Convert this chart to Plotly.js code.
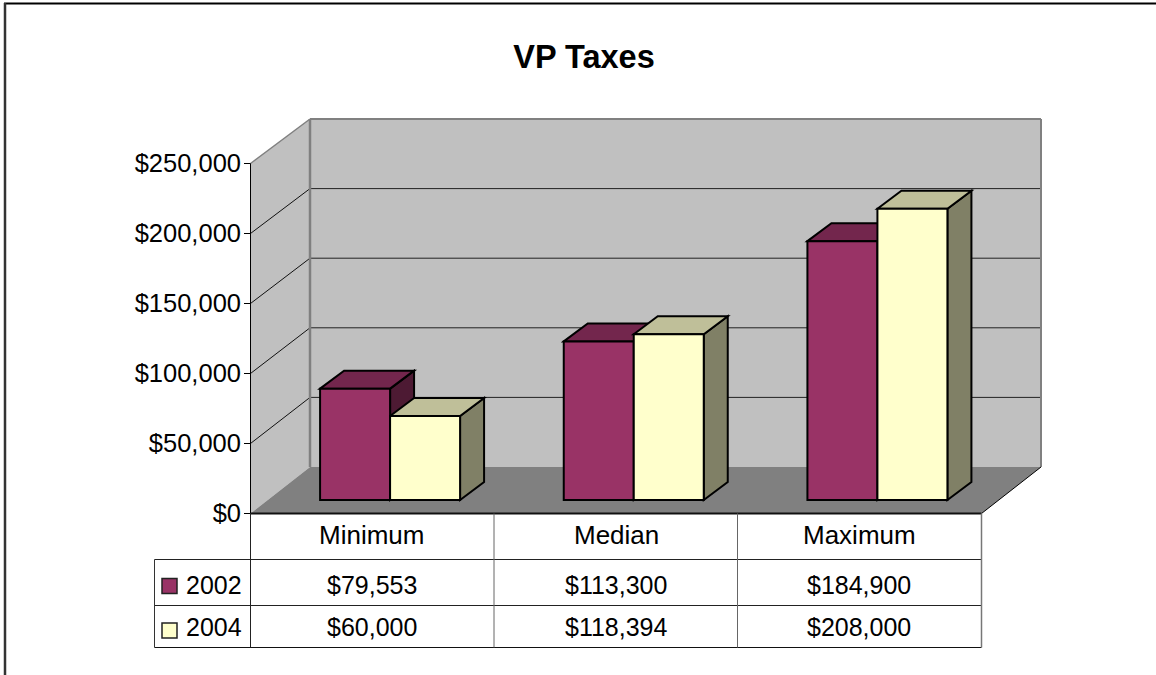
<!DOCTYPE html>
<html>
<head>
<meta charset="utf-8">
<script src="https://cdn.plot.ly/plotly-3.0.1.min.js"></script>
<style>html,body{margin:0;padding:0;background:#fff}#chart{width:1156px;height:675px}</style>
</head>
<body>
<div id="chart"></div>
<script>
const categories = ['Minimum', 'Median', 'Maximum'];
const seriesNames = ['2002', '2004'];
const values2002 = [79553, 113300, 184900];
const values2004 = [60000, 118394, 208000];
const yTicks = [0, 50000, 100000, 150000, 200000, 250000];

// Page geometry, in pixels
const W = 1156, H = 675;
const plotL = 248, plotR = 1045, plotT = 115, plotB = 515;   // whole-pixel plot area
const L = 250.5, Bottom = 513.5, FrontRight = 981.5;          // front edge of the box
const pxPerDollar = 350 / 250000;
const pxPerCat = (FrontRight - L) / 3;
const wallDx = 59.5 / pxPerCat, floorDy = 46.5 / pxPerDollar;
const backScale = 348 / 350;
const barW = 70 / pxPerCat, faceDx = 24 / pxPerCat, faceDy = 18 / pxPerDollar;
const barShift = 17.75 / pxPerCat, barBase = 13.5 / pxPerDollar;
const xMin = -0.5, xFront = 2.5, xBack = xFront + wallDx;
const yTop = yTicks[yTicks.length - 1];
const backY = t => floorDy + t * backScale;

const xRange = [xMin - (L - plotL) / pxPerCat, xMin + (plotR - L) / pxPerCat];
const yRange = [-(plotB - Bottom) / pxPerDollar, (Bottom - plotT) / pxPerDollar];

// paper coordinates are fractions of the plot area
const px = v => (v - plotL) / (plotR - plotL), py = v => (plotB - v) / (plotB - plotT);
const money = v => '$' + v.toLocaleString('en-US');
const path = pts => 'M' + pts.map(p => p[0] + ' ' + p[1]).join(' L') + ' Z';

const shapes = [];
function dataPoly(pts, fill, lineColor, lineWidth) {
  shapes.push({type: 'path', xref: 'x', yref: 'y', layer: 'below', path: path(pts), fillcolor: fill,
    line: {color: lineColor || fill, width: lineWidth === undefined ? 0 : lineWidth}});
}
function dataLine(x0, y0, x1, y1, color, width) {
  shapes.push({type: 'line', xref: 'x', yref: 'y', layer: 'below', x0, y0, x1, y1, line: {color, width}});
}
function pageLine(x0, y0, x1, y1, color, width) {
  shapes.push({type: 'line', xref: 'paper', yref: 'paper', layer: 'above',
    x0: px(x0), y0: py(y0), x1: px(x1), y1: py(y1), line: {color, width}});
}

// Walls and floor
const xBackL = xMin + wallDx;
dataPoly([[xMin, yTop], [xBackL, backY(yTop)], [xBackL, backY(0)], [xMin, 0]], '#C0C0C0');
dataPoly([[xBackL, backY(0)], [xBack, backY(0)], [xBack, backY(yTop)], [xBackL, backY(yTop)]], '#C0C0C0');
dataPoly([[xMin, 0], [xFront, 0], [xBack, backY(0)], [xBackL, backY(0)]], '#808080');

// Gridlines on the two walls
yTicks.slice(1, -1).forEach(t => {
  dataLine(xMin, t, xBackL, backY(t), '#111111', 1);
  dataLine(xBackL, backY(t), xBack, backY(t), '#222222', 1);
});
// Wall edges
dataLine(xBackL, backY(0), xBackL, backY(yTop), '#808080', 2.5);
dataLine(xBackL, backY(yTop), xBack, backY(yTop), '#808080', 2);
dataLine(xBack, backY(0), xBack, backY(yTop), '#808080', 2);
dataLine(xMin, yTop, xBackL, backY(yTop), '#808080', 1.5);
dataLine(xMin, 0, xMin, yTop, '#000000', 1);
dataLine(xFront, 0, xBack, backY(0), '#000000', 1);

// Value-axis tick marks, at the front edge of the left wall
yTicks.forEach(t => {
  shapes.push({type: 'line', xref: 'paper', yref: 'y', layer: 'above',
    x0: px(244), x1: px(L), y0: t, y1: t, line: {color: '#000000', width: 1}});
});

// Top and side faces of each bar, from the values
function faces(values, side, topColor, sideColor) {
  values.forEach((v, i) => {
    const x0 = i + barShift + (side === 0 ? -barW : 0), x1 = x0 + barW;
    const yT = barBase + v;
    dataPoly([[x1, barBase], [x1 + faceDx, barBase + faceDy], [x1 + faceDx, yT + faceDy], [x1, yT]], sideColor, '#000000', 2);
    dataPoly([[x0, yT], [x0 + faceDx, yT + faceDy], [x1 + faceDx, yT + faceDy], [x1, yT]], topColor, '#000000', 2);
  });
}
faces(values2002, 0, '#73264D', '#4D1A33');
faces(values2004, 1, '#BFBF99', '#808066');

// Data table
const colX = [250.5, 494, 737.5, 981.5];
const rowY = [513.5, 559.5, 605.5, 647.5];
pageLine(L, Bottom, FrontRight, Bottom, '#111111', 2);
pageLine(154.5, rowY[1], FrontRight, rowY[1], '#222222', 1);
pageLine(154.5, rowY[2], FrontRight, rowY[2], '#222222', 1);
pageLine(154.5, rowY[3], FrontRight, rowY[3], '#111111', 1);
pageLine(154.5, rowY[1], 154.5, rowY[3], '#333333', 1);
pageLine(colX[0], rowY[0], colX[0], rowY[3], '#222222', 1);
pageLine(colX[1], rowY[0], colX[1], rowY[3], '#666666', 1);
pageLine(colX[2], rowY[0], colX[2], rowY[3], '#666666', 1);
pageLine(colX[3], rowY[0], colX[3], rowY[3], '#777777', 1.5);

// Legend keys in the table
function swatch(y0, y1, fill) {
  shapes.push({type: 'rect', xref: 'paper', yref: 'paper', layer: 'above',
    x0: px(162), x1: px(177), y0: py(y0), y1: py(y1), fillcolor: fill, line: {color: '#222222', width: 1.5}});
}
swatch(578.5, 593.5, '#993366');
swatch(623, 638, '#FFFFCC');

// Frame of the picture
pageLine(4, 3.5, W, 3.5, '#000000', 2);
pageLine(5, 3, 5, H, '#333333', 2.5);

const fontFamily = 'Liberation Sans, Arial, sans-serif';
const font = size => ({family: fontFamily, size, color: '#000000'});
const note = (text, x, y, size, anchor) => ({text, xref: 'paper', yref: 'paper', x: px(x), y: py(y),
  xanchor: anchor || 'center', yanchor: 'middle', showarrow: false, font: font(size)});
const colCenter = [371.5, 616, 859];
const annotations = [];
categories.forEach((c, i) => {
  annotations.push(note(c, colCenter[i], 534.5, 26));
  annotations.push(note(money(values2002[i]), colCenter[i], 585, 25));
  annotations.push(note(money(values2004[i]), colCenter[i], 627, 25));
});
annotations.push(note(seriesNames[0], 184, 585, 25, 'left'));
annotations.push(note(seriesNames[1], 184, 627, 25, 'left'));

const xPos = categories.map((c, i) => i + barShift);
const barTrace = (name, values, color) => ({
  type: 'bar', name, x: xPos, y: values, base: values.map(() => barBase),
  marker: {color, line: {color: '#000000', width: 2}}, hoverinfo: 'skip'
});

Plotly.newPlot('chart', [
  barTrace(seriesNames[0], values2002, '#993366'),
  barTrace(seriesNames[1], values2004, '#FFFFCC')
], {
  width: W, height: H,
  margin: {l: plotL, r: W - plotR, t: plotT, b: H - plotB, pad: 0},
  paper_bgcolor: '#FFFFFF', plot_bgcolor: '#FFFFFF',
  barmode: 'group', bargap: 1 - 2 * barW, bargroupgap: 0,
  showlegend: false,
  title: {text: '<b>VP Taxes</b>', x: 584 / W, xanchor: 'center', xref: 'container', y: 1 - 57 / H, yanchor: 'middle',
    font: font(32.5)},
  xaxis: {range: xRange, visible: false, fixedrange: true},
  yaxis: {range: yRange, tickvals: yTicks, ticktext: yTicks.map(money), ticks: '', showgrid: false,
    zeroline: false, showline: false, fixedrange: true, tickfont: font(25.5), ticklabelstandoff: 6,
    ticklabelshift: -1.5},
  shapes, annotations
}, {staticPlot: true, displayModeBar: false});
</script>
</body>
</html>
